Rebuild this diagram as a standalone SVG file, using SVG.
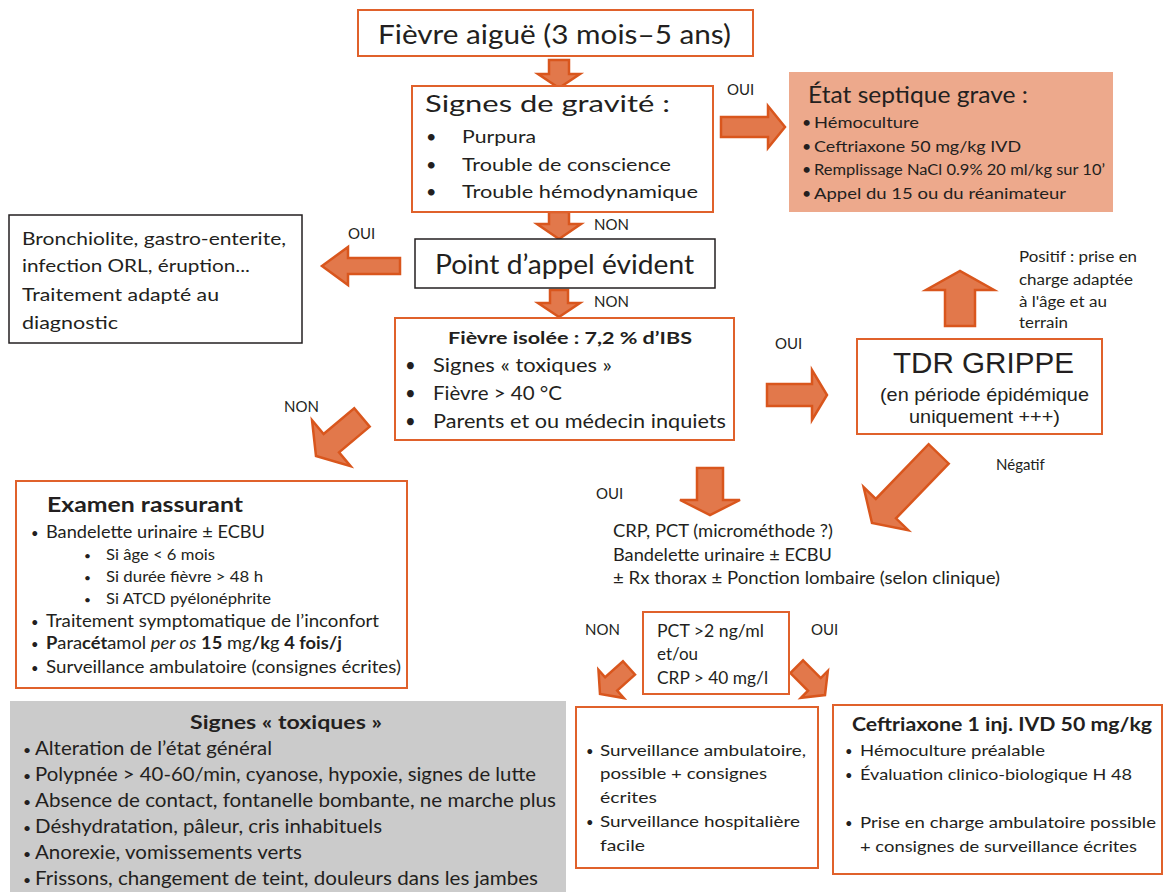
<svg xmlns="http://www.w3.org/2000/svg" width="1166" height="892" viewBox="0 0 1166 892">
<style>
.t{font-family:Lato,"Liberation Sans",sans-serif;fill:#231f20}
.b{font-weight:bold}
.ar{font-family:"Liberation Sans",Arial,sans-serif;fill:#231f20}
.lbl{font-family:Lato,"Liberation Sans",sans-serif;fill:#231f20;font-size:15px}
.arrow{fill:#E2784B;stroke:#D9561D;stroke-width:2.5;stroke-linejoin:miter}
.ob{fill:#fff;stroke:#E0612B;stroke-width:2}
.kb{fill:#fff;stroke:#231f20;stroke-width:1.5}
</style>
<rect width="1166" height="892" fill="#fff"/>

<g id="connectors">
  <polygon class="arrow" points="-28,-10 -14,-10 -14,-21 0,0 -14,21 -14,10 -28,10" transform="translate(559,88) rotate(90)"/>
  <polygon class="arrow" points="-27,-10 -15,-10 -15,-22 0,0 -15,22 -15,10 -27,10" transform="translate(559,239) rotate(90)"/>
  <polygon class="arrow" points="-27,-9 -14,-9 -14,-21 0,0 -14,21 -14,9 -27,9" transform="translate(559,317) rotate(90)"/>
  <polygon class="arrow" points="-64,-10 -17,-10 -17,-21 0,0 -17,21 -17,10 -64,10" transform="translate(785,127)"/>
  <polygon class="arrow" points="-78,-8 -26,-8 -26,-19 0,0 -26,19 -26,8 -78,8" transform="translate(322,266) rotate(180)"/>
  <polygon class="arrow" points="-60,-11 -15,-11 -15,-25 0,0 -15,25 -15,11 -60,11" transform="translate(827,395)"/>
  <polygon class="arrow" points="-55,-15 -19,-15 -19,-34 0,0 -19,34 -19,15 -55,15" transform="translate(960,271) rotate(-90)"/>
  <polygon class="arrow" points="-47,-13 -15,-13 -15,-30 0,0 -15,30 -15,13 -47,13" transform="translate(710,515) rotate(90)"/>
  <polygon class="arrow" points="-60,-12 -20,-12 -20,-30 0,0 -20,30 -20,12 -60,12" transform="translate(316,456) rotate(140)"/>
  <polygon class="arrow" points="-96,-14 -20,-14 -20,-31 0,0 -20,31 -20,14 -96,14" transform="translate(872,523) rotate(134)"/>
  <polygon class="arrow" points="-39,-9 -15,-9 -15,-19 0,0 -15,19 -15,9 -39,9" transform="translate(600,694) rotate(138)"/>
  <polygon class="arrow" points="-40,-9 -15,-9 -15,-19 0,0 -15,19 -15,9 -40,9" transform="translate(825,695) rotate(45)"/>
  <text class="lbl" x="727" y="95">OUI</text>
  <text class="lbl" x="594" y="230">NON</text>
  <text class="lbl" x="348" y="239">OUI</text>
  <text class="lbl" x="594" y="307">NON</text>
  <text class="lbl" x="775" y="349">OUI</text>
  <text class="lbl" x="284" y="412">NON</text>
  <text class="lbl" x="996" y="470">Négatif</text>
  <text class="lbl" x="596" y="499">OUI</text>
  <text class="lbl" x="585" y="635">NON</text>
  <text class="lbl" x="811" y="635">OUI</text>
</g>

<g id="n-fievre-aigue">
  <rect class="ob" x="358" y="10" width="395" height="46"/>
  <text class="t" x="378" y="44" font-size="26.5" textLength="353" lengthAdjust="spacingAndGlyphs">Fièvre aiguë (3 mois–5 ans)</text>
</g>

<g id="n-signes-gravite">
  <rect class="ob" x="412" y="86" width="301" height="126"/>
  <text class="t" x="425" y="112" font-size="24" textLength="245" lengthAdjust="spacingAndGlyphs">Signes de gravité :</text>
  <g class="t" font-size="18">
    <text x="426" y="143">•</text><text x="462" y="143" textLength="74" lengthAdjust="spacingAndGlyphs">Purpura</text>
    <text x="426" y="171">•</text><text x="462" y="171" textLength="209" lengthAdjust="spacingAndGlyphs">Trouble de conscience</text>
    <text x="426" y="198">•</text><text x="462" y="198" textLength="236" lengthAdjust="spacingAndGlyphs">Trouble hémodynamique</text>
  </g>
</g>

<g id="n-etat-septique">
  <rect x="789" y="72" width="324" height="140" fill="#EDA98C"/>
  <text class="t" x="808" y="103" font-size="23" textLength="220" lengthAdjust="spacingAndGlyphs">État septique grave :</text>
  <g class="t" font-size="16">
    <text x="802" y="128">•</text><text x="814" y="128" textLength="105" lengthAdjust="spacingAndGlyphs">Hémoculture</text>
    <text x="802" y="152">•</text><text x="814" y="152" textLength="207" lengthAdjust="spacingAndGlyphs">Ceftriaxone 50 mg/kg IVD</text>
    <text x="802" y="175">•</text><text x="814" y="175" font-size="15.5" textLength="291" lengthAdjust="spacingAndGlyphs">Remplissage NaCl 0.9% 20 ml/kg sur 10’</text>
    <text x="802" y="199">•</text><text x="814" y="199" textLength="252" lengthAdjust="spacingAndGlyphs">Appel du 15 ou du réanimateur</text>
  </g>
</g>

<g id="n-bronchiolite">
  <rect class="kb" x="9" y="215" width="293" height="128"/>
  <g class="t" font-size="18">
    <text x="22" y="245" textLength="264" lengthAdjust="spacingAndGlyphs">Bronchiolite, gastro-enterite,</text>
    <text x="22" y="272" textLength="228" lengthAdjust="spacingAndGlyphs">infection ORL, éruption...</text>
    <text x="22" y="301" textLength="197" lengthAdjust="spacingAndGlyphs">Traitement adapté au</text>
    <text x="22" y="329" textLength="96" lengthAdjust="spacingAndGlyphs">diagnostic</text>
  </g>
</g>

<g id="n-point-appel">
  <rect class="kb" x="415" y="239" width="300" height="49"/>
  <text class="t" x="435" y="274" font-size="26" textLength="259" lengthAdjust="spacingAndGlyphs">Point d’appel évident</text>
</g>

<g id="n-fievre-isolee">
  <rect class="ob" x="395" y="318" width="339" height="122"/>
  <text class="t b" x="448" y="344" font-size="17" textLength="244" lengthAdjust="spacingAndGlyphs">Fièvre isolée : 7,2 % d’IBS</text>
  <g class="t" font-size="18.5">
    <text x="405" y="372">•</text><text x="433" y="372" textLength="179" lengthAdjust="spacingAndGlyphs">Signes « toxiques »</text>
    <text x="405" y="400">•</text><text x="433" y="400" textLength="129" lengthAdjust="spacingAndGlyphs">Fièvre &gt; 40 °C</text>
    <text x="405" y="428">•</text><text x="433" y="428" textLength="293" lengthAdjust="spacingAndGlyphs">Parents et ou médecin inquiets</text>
  </g>
</g>

<g id="n-tdr-grippe">
  <rect class="ob" x="857" y="339" width="245" height="95"/>
  <text class="ar" x="893" y="373" font-size="30" textLength="181" lengthAdjust="spacingAndGlyphs">TDR GRIPPE</text>
  <text class="ar" x="880" y="401" font-size="19" textLength="209" lengthAdjust="spacingAndGlyphs">(en période épidémique</text>
  <text class="ar" x="909" y="423" font-size="19" textLength="151" lengthAdjust="spacingAndGlyphs">uniquement +++)</text>
</g>

<g id="n-positif">
  <g class="t" font-size="14.5">
    <text x="1019" y="262" textLength="118" lengthAdjust="spacingAndGlyphs">Positif : prise en</text>
    <text x="1019" y="285" textLength="114" lengthAdjust="spacingAndGlyphs">charge adaptée</text>
    <text x="1019" y="307" textLength="88" lengthAdjust="spacingAndGlyphs">à l'âge et au</text>
    <text x="1019" y="328" textLength="49" lengthAdjust="spacingAndGlyphs">terrain</text>
  </g>
</g>

<g id="n-examen-rassurant">
  <rect class="ob" x="16" y="481" width="391" height="207"/>
  <text class="t b" x="47" y="512" font-size="20" textLength="196" lengthAdjust="spacingAndGlyphs">Examen rassurant</text>
  <g class="t" font-size="16.5">
    <text x="31" y="538" font-size="13">•</text><text x="46" y="538" textLength="219" lengthAdjust="spacingAndGlyphs">Bandelette urinaire ± ECBU</text>
    <text x="84" y="560" font-size="12">•</text><text x="106" y="560" font-size="15" textLength="109" lengthAdjust="spacingAndGlyphs">Si âge &lt; 6 mois</text>
    <text x="84" y="582" font-size="12">•</text><text x="106" y="582" font-size="15" textLength="157" lengthAdjust="spacingAndGlyphs">Si durée fièvre &gt; 48 h</text>
    <text x="84" y="604" font-size="12">•</text><text x="106" y="604" font-size="15" textLength="165" lengthAdjust="spacingAndGlyphs">Si ATCD pyélonéphrite</text>
    <text x="31" y="627" font-size="13">•</text><text x="46" y="627" textLength="333" lengthAdjust="spacingAndGlyphs">Traitement symptomatique de l’inconfort</text>
    <text x="31" y="649" font-size="13">•</text><text x="46" y="649" textLength="296" lengthAdjust="spacingAndGlyphs"><tspan class="b">P</tspan>ara<tspan class="b">cét</tspan>amol <tspan font-style="italic">per os</tspan> <tspan class="b">15</tspan> mg<tspan class="b">/k</tspan>g <tspan class="b">4 fois/j</tspan></text>
    <text x="31" y="673" font-size="13">•</text><text x="46" y="673" textLength="355" lengthAdjust="spacingAndGlyphs">Surveillance ambulatoire (consignes écrites)</text>
  </g>
</g>

<g id="n-signes-toxiques">
  <rect x="10" y="701" width="556" height="191" fill="#CBCBCB"/>
  <text class="t b" x="190" y="729" font-size="19" textLength="192" lengthAdjust="spacingAndGlyphs">Signes « toxiques »</text>
  <g class="t" font-size="18.5">
    <text x="23" y="755" font-size="14">•</text><text x="35" y="755" textLength="237" lengthAdjust="spacingAndGlyphs">Alteration de l’état général</text>
    <text x="23" y="781" font-size="14">•</text><text x="35" y="781" textLength="501" lengthAdjust="spacingAndGlyphs">Polypnée &gt; 40-60/min, cyanose, hypoxie, signes de lutte</text>
    <text x="23" y="807" font-size="14">•</text><text x="35" y="807" textLength="521" lengthAdjust="spacingAndGlyphs">Absence de contact, fontanelle bombante, ne marche plus</text>
    <text x="23" y="833" font-size="14">•</text><text x="35" y="833" textLength="347" lengthAdjust="spacingAndGlyphs">Déshydratation, pâleur, cris inhabituels</text>
    <text x="23" y="859" font-size="14">•</text><text x="35" y="859" textLength="267" lengthAdjust="spacingAndGlyphs">Anorexie, vomissements verts</text>
    <text x="23" y="885" font-size="14">•</text><text x="35" y="885" textLength="503" lengthAdjust="spacingAndGlyphs">Frissons, changement de teint, douleurs dans les jambes</text>
  </g>
</g>

<g id="n-bilan">
  <g class="t" font-size="17">
    <text x="613" y="537" textLength="220" lengthAdjust="spacingAndGlyphs">CRP, PCT (microméthode ?)</text>
    <text x="613" y="561" textLength="219" lengthAdjust="spacingAndGlyphs">Bandelette urinaire ± ECBU</text>
    <text x="613" y="584" textLength="387" lengthAdjust="spacingAndGlyphs">± Rx thorax ± Ponction lombaire (selon clinique)</text>
  </g>
</g>

<g id="n-pct">
  <rect class="ob" x="643" y="612" width="146" height="82"/>
  <g class="t" font-size="17">
    <text x="657" y="637" textLength="107" lengthAdjust="spacingAndGlyphs">PCT &gt;2 ng/ml</text>
    <text x="657" y="660" textLength="41" lengthAdjust="spacingAndGlyphs">et/ou</text>
    <text x="657" y="684" textLength="111" lengthAdjust="spacingAndGlyphs">CRP &gt; 40 mg/l</text>
  </g>
</g>

<g id="n-surveillance">
  <rect class="ob" x="576" y="707" width="242" height="161"/>
  <g class="t" font-size="16">
    <text x="586" y="756" font-size="13">•</text><text x="600" y="756" textLength="206" lengthAdjust="spacingAndGlyphs">Surveillance ambulatoire,</text>
    <text x="600" y="779" textLength="167" lengthAdjust="spacingAndGlyphs">possible + consignes</text>
    <text x="600" y="803" textLength="57" lengthAdjust="spacingAndGlyphs">écrites</text>
    <text x="586" y="827" font-size="13">•</text><text x="600" y="827" textLength="200" lengthAdjust="spacingAndGlyphs">Surveillance hospitalière</text>
    <text x="600" y="851" textLength="45" lengthAdjust="spacingAndGlyphs">facile</text>
  </g>
</g>

<g id="n-ceftriaxone">
  <rect class="ob" x="833" y="705" width="329" height="169"/>
  <text class="t b" x="852" y="731" font-size="18" textLength="300" lengthAdjust="spacingAndGlyphs">Ceftriaxone 1 inj. IVD 50 mg/kg</text>
  <g class="t" font-size="16">
    <text x="845" y="756" font-size="13">•</text><text x="860" y="756" textLength="185" lengthAdjust="spacingAndGlyphs">Hémoculture préalable</text>
    <text x="845" y="780" font-size="13">•</text><text x="860" y="780" textLength="272" lengthAdjust="spacingAndGlyphs">Évaluation clinico-biologique H 48</text>
    <text x="845" y="828" font-size="13">•</text><text x="860" y="828" textLength="296" lengthAdjust="spacingAndGlyphs">Prise en charge ambulatoire possible</text>
    <text x="860" y="852" textLength="277" lengthAdjust="spacingAndGlyphs">+ consignes de surveillance écrites</text>
  </g>
</g>
</svg>
